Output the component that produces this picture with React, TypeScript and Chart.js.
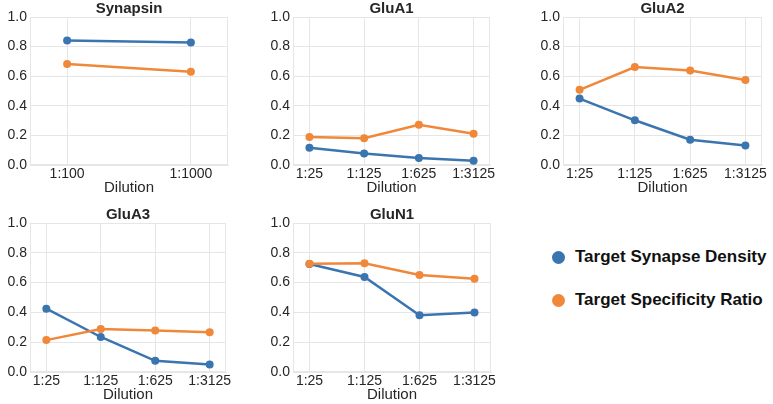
import React, { useEffect, useRef } from "react";
import { Chart, registerables } from "chart.js";

Chart.register(...registerables);

// ---- data ----
const SYNAPSIN_CATS = ["1:100", "1:1000"];
const DILUTION_CATS = ["1:25", "1:125", "1:625", "1:3125"];

const synapsinDensity = [0.842, 0.827];
const synapsinSpecificity = [0.683, 0.63];

const gluA1Density = [0.116, 0.077, 0.048, 0.029];
const gluA1Specificity = [0.189, 0.181, 0.272, 0.211];

const gluA2Density = [0.449, 0.302, 0.171, 0.131];
const gluA2Specificity = [0.508, 0.662, 0.639, 0.574];

const gluA3Density = [0.425, 0.235, 0.075, 0.05];
const gluA3Specificity = [0.214, 0.288, 0.279, 0.267];

const gluN1Density = [0.725, 0.638, 0.381, 0.4];
const gluN1Specificity = [0.727, 0.73, 0.651, 0.626];

const Y_TICKS = [0, 0.2, 0.4, 0.6, 0.8, 1.0];
const SERIES_NAMES = ["Target Synapse Density", "Target Specificity Ratio"];
const X_TITLE = "Dilution";

// ---- style ----
const BLUE = "#3a75b0";
const ORANGE = "#f0883a";
const GRID = "#e6e6e6";
const TEXT = "#262626";
const FONT = "'Liberation Sans', Arial, Helvetica, sans-serif";

const Y_AXIS_W = 30;
const X_AXIS_H = 32;
const TITLE_H = 17;
const RIGHT_PAD = 10;

Chart.defaults.font.family = FONT;

const framePlugin = {
  id: "frame",
  beforeDatasetsDraw(chart: any) {
    const { ctx, chartArea: a } = chart;
    ctx.save();
    ctx.strokeStyle = GRID;
    ctx.lineWidth = 1;
    const l = Math.round(a.left) + 0.5;
    const t = Math.round(a.top) + 0.5;
    const r = Math.round(a.right) - 0.5;
    const b = Math.round(a.bottom) - 0.5;
    ctx.strokeRect(l, t, r - l, b - t);
    ctx.restore();
  },
};

type PanelProps = {
  title: string;
  categories: string[];
  density: number[];
  specificity: number[];
  left: number;
  top: number;
  plotW: number;
  plotH: number;
};

function Panel({ title, categories, density, specificity, left, top, plotW, plotH }: PanelProps) {
  const ref = useRef<HTMLCanvasElement>(null);
  const width = Y_AXIS_W + plotW + RIGHT_PAD;
  const height = TITLE_H + plotH + X_AXIS_H;

  useEffect(() => {
    if (!ref.current) return;
    const n = categories.length;
    const chart = new Chart(ref.current, {
      type: "line",
      data: {
        datasets: [
          {
            label: SERIES_NAMES[1],
            data: specificity.map((v, i) => ({ x: i, y: v })),
            borderColor: ORANGE,
            backgroundColor: ORANGE,
            borderWidth: 2.5,
            pointRadius: 4,
            pointBorderWidth: 0,
            pointHoverRadius: 4,
            tension: 0,
            order: 0,
          },
          {
            label: SERIES_NAMES[0],
            data: density.map((v, i) => ({ x: i, y: v })),
            borderColor: BLUE,
            backgroundColor: BLUE,
            borderWidth: 2.5,
            pointRadius: 4,
            pointBorderWidth: 0,
            pointHoverRadius: 4,
            tension: 0,
            order: 1,
          },
        ],
      },
      options: {
        animation: false,
        responsive: false,
        devicePixelRatio: 1,
        events: [],
        layout: { padding: { left: 0, top: 0, right: RIGHT_PAD, bottom: 0 } },
        plugins: {
          legend: { display: false },
          tooltip: { enabled: false },
          title: {
            display: true,
            text: title,
            color: TEXT,
            fullSize: false,
            padding: 0,
            font: { size: 15, weight: "bold", lineHeight: TITLE_H / 15 },
          } as any,
        },
        scales: {
          x: {
            type: "linear",
            min: -0.3,
            max: n - 1 + 0.3,
            afterBuildTicks: (scale: any) => {
              scale.ticks = categories.map((_, i) => ({ value: i }));
            },
            afterFit: (scale: any) => {
              scale.height = X_AXIS_H;
              scale.paddingLeft = 0;
              scale.paddingRight = 0;
            },
            grid: { color: GRID, drawTicks: false },
            border: { color: GRID },
            ticks: {
              autoSkip: false,
              maxRotation: 0,
              padding: 1,
              color: TEXT,
              font: { size: 14 },
              callback: (v: any) => categories[Math.round(Number(v))] ?? "",
            },
            title: {
              display: true,
              text: X_TITLE,
              color: TEXT,
              font: { size: 15 },
              padding: { top: 0, bottom: 0 },
            },
          },
          y: {
            type: "linear",
            min: 0,
            max: 1,
            afterBuildTicks: (scale: any) => {
              scale.ticks = Y_TICKS.map((v) => ({ value: v }));
            },
            afterFit: (scale: any) => {
              scale.width = Y_AXIS_W;
              scale.paddingTop = 0;
              scale.paddingBottom = 0;
            },
            grid: { color: GRID, drawTicks: false },
            border: { color: GRID },
            ticks: {
              padding: 3,
              color: TEXT,
              font: { size: 14 },
              callback: (v: any) => Number(v).toFixed(1),
            },
          },
        },
      } as any,
      plugins: [framePlugin],
    });
    return () => chart.destroy();
  }, [title, categories, density, specificity, plotW, plotH]);

  return (
    <canvas
      ref={ref}
      width={width}
      height={height}
      style={{
        position: "absolute",
        left: left - Y_AXIS_W,
        top: top - TITLE_H,
        width,
        height,
      }}
    />
  );
}

function LegendItem({ color, label, y }: { color: string; label: string; y: number }) {
  return (
    <>
      <div
        style={{
          position: "absolute",
          left: 558 - 6.5,
          top: y - 6.5,
          width: 13,
          height: 13,
          borderRadius: "50%",
          background: color,
        }}
      />
      <div
        style={{
          position: "absolute",
          left: 575,
          top: y - 11,
          height: 22,
          lineHeight: "22px",
          fontFamily: FONT,
          fontWeight: "bold",
          fontSize: 17,
          color: "#111",
          whiteSpace: "nowrap",
        }}
      >
        {label}
      </div>
    </>
  );
}

export default function App() {
  return (
    <div
      style={{
        position: "absolute",
        left: 0,
        top: 0,
        width: 773,
        height: 404,
        overflow: "hidden",
        background: "#fff",
      }}
    >
      <Panel title="Synapsin" categories={SYNAPSIN_CATS} density={synapsinDensity} specificity={synapsinSpecificity} left={30} top={17} plotW={198} plotH={148} />
      <Panel title="GluA1" categories={DILUTION_CATS} density={gluA1Density} specificity={gluA1Specificity} left={293} top={17} plotW={197} plotH={148} />
      <Panel title="GluA2" categories={DILUTION_CATS} density={gluA2Density} specificity={gluA2Specificity} left={563} top={17} plotW={199} plotH={148} />
      <Panel title="GluA3" categories={DILUTION_CATS} density={gluA3Density} specificity={gluA3Specificity} left={30} top={223} plotW={196} plotH={149} />
      <Panel title="GluN1" categories={DILUTION_CATS} density={gluN1Density} specificity={gluN1Specificity} left={293} top={223} plotW={198} plotH={149} />
      <LegendItem color={BLUE} label={SERIES_NAMES[0]} y={257} />
      <LegendItem color={ORANGE} label={SERIES_NAMES[1]} y={300} />
    </div>
  );
}
